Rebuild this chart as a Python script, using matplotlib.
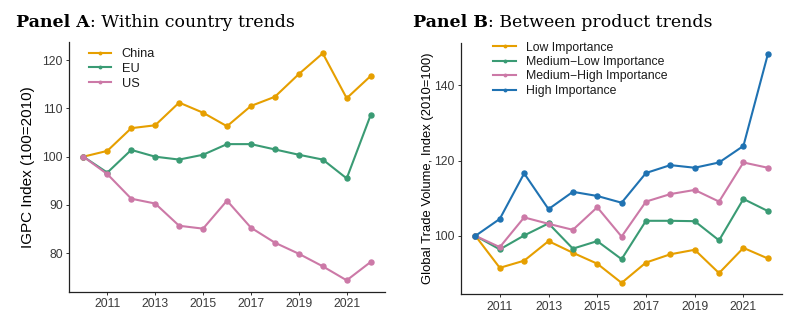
import matplotlib
matplotlib.use("Agg")
import matplotlib.pyplot as plt
from matplotlib.lines import Line2D

years = list(range(2010, 2023))

# Panel A: IGPC index by country (100 = 2010)
china = [100.0, 101.2, 105.9, 106.5, 111.2, 109.1, 106.3, 110.5, 112.4, 117.1, 121.4, 112.1, 116.7]
eu = [100.0, 96.7, 101.4, 100.0, 99.4, 100.4, 102.6, 102.6, 101.5, 100.4, 99.4, 95.5, 108.6]
us = [100.0, 96.4, 91.3, 90.3, 85.7, 85.1, 90.9, 85.3, 82.2, 79.9, 77.3, 74.4, 78.2]

# Panel B: global trade volume by importance group (2010 = 100)
low_imp = [100.0, 91.5, 93.4, 98.6, 95.5, 92.6, 87.5, 92.9, 95.1, 96.3, 90.1, 96.8, 94.0]
med_low_imp = [100.0, 96.4, 100.1, 103.3, 96.6, 98.6, 93.8, 104.0, 104.0, 103.9, 98.8, 109.8, 106.6]
med_high_imp = [100.0, 97.0, 104.9, 103.2, 101.6, 107.6, 99.8, 109.1, 111.1, 112.2, 109.1, 119.5, 118.1]
high_imp = [100.0, 104.5, 116.6, 107.1, 111.7, 110.6, 108.8, 116.7, 118.8, 118.1, 119.5, 123.9, 148.2]

country_labels = ["China", "EU", "US"]
group_labels = ["Low Importance", "Medium\u2212Low Importance",
                "Medium\u2212High Importance", "High Importance"]
x_ticks = [2011, 2013, 2015, 2017, 2019, 2021]
a_yticks = [80, 90, 100, 110, 120]
b_yticks = [100, 120, 140]

ORANGE = "#E69F00"
GREEN = "#3A9B74"
PINK = "#CC79A7"
BLUE = "#1F72B2"

SANS = "Liberation Sans"
SERIF = "DejaVu Serif"

fig = plt.figure(figsize=(8.0, 3.21), dpi=100)
fig.patch.set_facecolor("white")


def style_axes(ax, yticks, ylim):
    for side in ("top", "right"):
        ax.spines[side].set_visible(False)
    for side in ("left", "bottom"):
        ax.spines[side].set_linewidth(0.9)
        ax.spines[side].set_color("#222222")
    ax.set_xlim(2009.4, 2022.6)
    ax.set_ylim(*ylim)
    ax.set_xticks(x_ticks)
    ax.set_yticks(yticks)
    ax.tick_params(axis="both", direction="out", length=2.5, width=0.7,
                   color="#333333", labelcolor="#3a3a3a", labelsize=8.8, pad=2)
    for lab in ax.get_xticklabels() + ax.get_yticklabels():
        lab.set_fontfamily(SANS)


def plot_series(ax, series, colors, labels):
    for vals, col, lab in zip(series, colors, labels):
        ax.plot(years, vals, color=col, lw=1.5, marker="o", ms=3.6,
                mec=col, mfc=col, label=lab, zorder=3)
    handles = [Line2D([0], [0], color=c, lw=1.5, marker="o", ms=1.8)
               for c in colors]
    return handles


# ---- Panel A ----
axA = fig.add_axes([0.08625, 0.0913, 0.395, 0.778])
style_axes(axA, a_yticks, (72.05, 123.75))
hA = plot_series(axA, [china, eu, us], [ORANGE, GREEN, PINK], country_labels)
axA.set_ylabel("IGPC Index (100=2010)", fontsize=11, family=SANS, color="black")
axA.yaxis.set_label_coords(-0.108, 0.5)
legA = axA.legend(hA, country_labels, loc="upper left",
                  bbox_to_anchor=(0.035, 1.01), frameon=False,
                  prop={"family": SANS, "size": 9.2}, handlelength=1.75,
                  handletextpad=0.8, labelspacing=0.2, borderaxespad=0.3)
for t in legA.get_texts():
    t.set_color("#1a1a1a")

# ---- Panel B ----
axB = fig.add_axes([0.576, 0.083, 0.402, 0.783])
style_axes(axB, b_yticks, (84.45, 151.25))
hB = plot_series(axB, [low_imp, med_low_imp, med_high_imp, high_imp],
                 [ORANGE, GREEN, PINK, BLUE], group_labels)
axB.set_ylabel("Global Trade Volume, Index (2010=100)", fontsize=9.4,
               family=SANS, color="black")
axB.yaxis.set_label_coords(-0.084, 0.5)
legB = axB.legend(hB, group_labels, loc="upper left",
                  bbox_to_anchor=(0.075, 1.04), frameon=False,
                  prop={"family": SANS, "size": 8.8}, handlelength=1.85,
                  handletextpad=0.8, labelspacing=0.2, borderaxespad=0.3)
for t in legB.get_texts():
    t.set_color("#1a1a1a")

# ---- Titles (bold lead-in followed by regular text) ----
for x, bold, rest in [(0.02, "Panel A", ": Within country trends"),
                      (0.516, "Panel B", ": Between product trends")]:
    t = fig.text(x, 0.915, bold, fontsize=12.5, fontweight="bold",
                 family=SERIF, va="baseline", ha="left")
    fig.canvas.draw()
    bb = t.get_window_extent()
    x_end = bb.x1 / fig.bbox.width
    fig.text(x_end, 0.915, rest, fontsize=12.5, family=SERIF,
             va="baseline", ha="left")

fig.savefig("out.png", dpi=100, facecolor="white")
